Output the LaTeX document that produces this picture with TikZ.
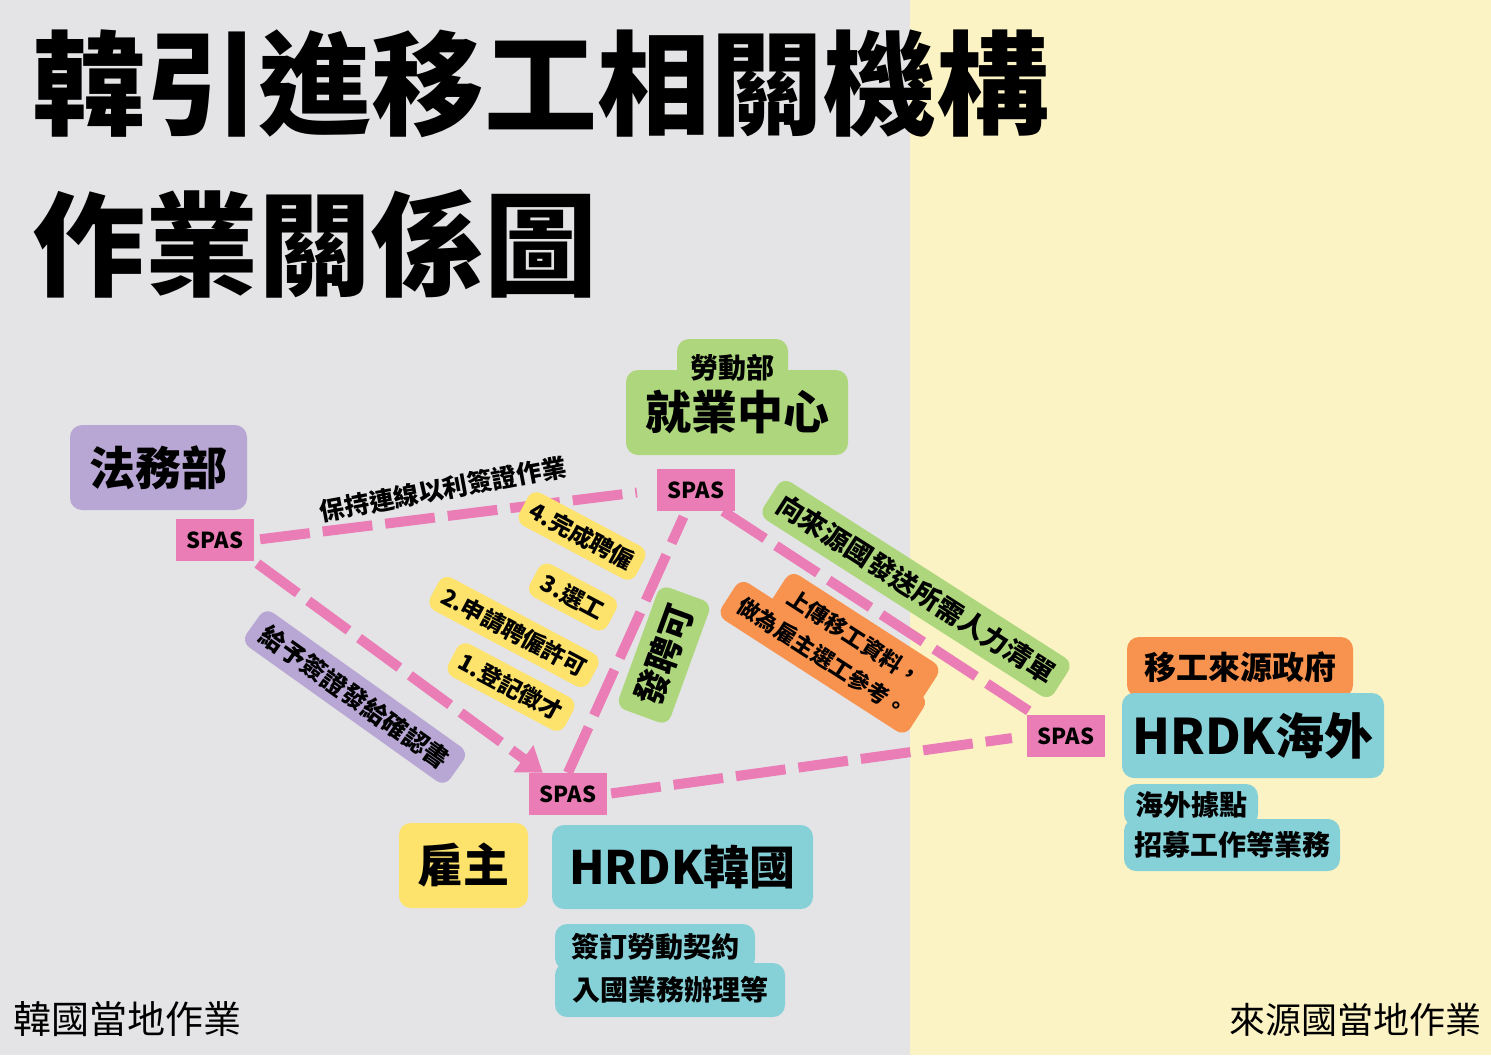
\documentclass[tikz,border=0pt]{standalone}
\usepackage{fontspec}
\setmainfont{Noto Sans CJK TC}
\newfontfamily\titlefont{Noto Sans CJK TC Black}
\usetikzlibrary{arrows.meta}
\definecolor{graybg}{HTML}{E4E4E6}
\definecolor{yelbg}{HTML}{FBF3C4}
\definecolor{purp}{HTML}{B8A7D4}
\definecolor{spaspink}{HTML}{EA7CB6}
\definecolor{grn}{HTML}{AED77D}
\definecolor{yel}{HTML}{FDE26B}
\definecolor{org}{HTML}{F8924F}
\definecolor{cyanbox}{HTML}{86D0D8}

\begin{document}
\begin{tikzpicture}
[x=1pt,y=-1pt]
\tikzstyle{box node}=[rounded corners=12pt,inner sep=0,align=center]
\tikzstyle{big text}=[font=\bfseries\fontsize{46}{52}\selectfont]
\tikzstyle{mid text}=[font=\bfseries\fontsize{28}{38}\selectfont]
\tikzstyle{tag node}=[rounded corners=10pt,inner sep=0,font=\bfseries\fontsize{23}{28}\selectfont]
\tikzstyle{spas node}=[fill=spaspink,inner sep=0,minimum width=78pt,minimum height=42pt,font=\bfseries\fontsize{22}{26}\selectfont]
\tikzstyle{link}=[spaspink,line width=10pt,dash pattern=on 50pt off 13pt]

\useasboundingbox (0,0) rectangle (1491,1055);
\fill[graybg] (0,0) rectangle (910,1055);
\fill[yelbg] (910,0) rectangle (1491,1055);

\node(t1)[anchor=west,inner sep=0,font=\titlefont\fontsize{113}{120}\selectfont]at(32,84){韓引進移工相關機構};
\node(t2)[anchor=west,inner sep=0,font=\titlefont\fontsize{113}{120}\selectfont]at(32,244){作業關係圖};

\node(moj)[box node,big text,fill=purp,minimum width=177pt,minimum height=85pt]at(158.5,467.5){法務部};
\node(mol)[box node,fill=grn,minimum width=111pt,minimum height=56pt]at(732.5,367){};
\node(jc)[box node,big text,fill=grn,minimum width=222pt,minimum height=85pt]at(737,412.5){就業中心};
\node(molt)[inner sep=0,mid text]at(732.5,368){勞動部};
\node(emp)[box node,big text,fill=yel,minimum width=129pt,minimum height=85pt]at(463.5,865.5){雇主};
\node(hrdkk)[box node,big text,fill=cyanbox,minimum width=261pt,minimum height=84pt]at(682.5,867){HRDK韓國};
\node(notek1)[box node,mid text,fill=cyanbox,minimum width=200pt,minimum height=46pt]at(655,947){簽訂勞動契約};
\node(notek2)[box node,mid text,fill=cyanbox,minimum width=230pt,minimum height=54pt]at(670,990){入國業務辦理等};
\node(gov)[box node,font=\bfseries\fontsize{32}{38}\selectfont,fill=org,minimum width=226pt,minimum height=60pt]at(1240,667){移工來源政府};
\node(hrdko)[box node,font=\bfseries\fontsize{49}{54}\selectfont,fill=cyanbox,minimum width=262pt,minimum height=85pt]at(1253,735.5){HRDK海外};
\node(noteo1)[box node,mid text,fill=cyanbox,minimum width=134pt,minimum height=42pt]at(1191,805){海外據點};
\node(noteo2)[box node,mid text,fill=cyanbox,minimum width=216pt,minimum height=52pt]at(1232,845){招募工作等業務};

\node(spasl)[spas node]at(215,540){SPAS};
\node(spasj)[spas node]at(696,490){SPAS};
\node(spase)[spas node]at(568,794){SPAS};
\node(spasr)[spas node]at(1066,736){SPAS};

\draw[link,shorten >=20pt,shorten <=6pt] (spasl.east) -- (spasj.west);
\draw[link,shorten <=4pt,-{Triangle[width=32pt,length=24pt]}] (spasl.south east) -- ([xshift=14pt]spase.north west);
\draw[link,shorten >=6pt] (spase.north) -- ([xshift=-10pt]spasj.south);
\draw[link] ([xshift=-12pt]spasj.south east) -- ([xshift=8pt]spasr.north west);
\draw[link,shorten >=15pt,shorten <=4pt] (spase.east) -- (spasr.west);

\node(keep)[inner sep=0,font=\bfseries\fontsize{25}{30}\selectfont,rotate=10.5]at(443,489){保持連線以利簽證作業};
\node(visa)[tag node,fill=purp,rotate=-35.5,minimum width=250pt,minimum height=42pt,font=\bfseries\fontsize{25}{30}\selectfont]at(355,697){給予簽證發給確認書};
\node(s4)[tag node,fill=yel,rotate=-28,minimum width=132pt,minimum height=37pt]at(582,536){4.完成聘僱};
\node(s3)[tag node,fill=yel,rotate=-28,minimum width=88pt,minimum height=37pt]at(573,597){3.選工};
\node(s2)[tag node,fill=yel,rotate=-28,minimum width=180pt,minimum height=37pt]at(514,632){2.申請聘僱許可};
\node(s1)[tag node,fill=yel,rotate=-28,minimum width=132pt,minimum height=37pt]at(511,687){1.登記徵才};
\node(permit)[tag node,fill=grn,rotate=70,minimum width=130pt,minimum height=55pt,font=\bfseries\fontsize{35}{40}\selectfont]at(664,655){發聘可};
\node(list)[tag node,fill=grn,rotate=-32.6,minimum width=345pt,minimum height=45pt,font=\bfseries\fontsize{27}{32}\selectfont]at(916,589){向來源國發送所需人力清單};

\begin{scope}[shift={(832,643)},rotate=-32.8,transform shape]
\node(up1)[tag node,fill=org,minimum width=180pt,minimum height=44pt,font=\bfseries\fontsize{22}{26}\selectfont]at(16,-17){上傳移工資料，};
\node(up2)[tag node,fill=org,minimum width=224pt,minimum height=44pt,font=\bfseries\fontsize{22}{26}\selectfont]at(0,17){做為雇主選工參考。};
\end{scope}

\node(krside)[anchor=west,inner sep=0,font=\fontsize{38}{42}\selectfont]at(13,1019){韓國當地作業};
\node(srcside)[anchor=east,inner sep=0,font=\fontsize{36}{40}\selectfont]at(1482,1020){來源國當地作業};
\end{tikzpicture}
\end{document}
